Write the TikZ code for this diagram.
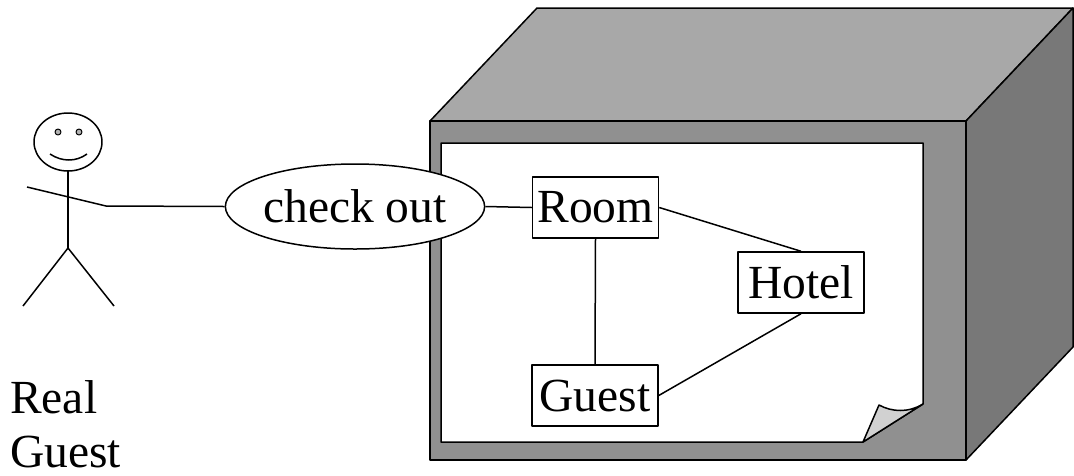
\documentclass[tikz,border=0pt]{standalone}
\usepackage{fontspec}
\setmainfont{Liberation Serif}
\usetikzlibrary{shapes.geometric}

\definecolor{topface}{gray}{0.66}
\definecolor{frontface}{gray}{0.565}
\definecolor{sideface}{gray}{0.47}
\definecolor{curlgray}{gray}{0.82}

\tikzset{
	cls/.style={draw, fill=white, line width=1.5pt, inner sep=0pt,
		minimum width=126pt, minimum height=61pt,
		font=\fontsize{47.5}{47.5}\selectfont},
	usecase/.style={ellipse, draw, fill=white, line width=1.5pt, inner sep=0pt,
		minimum width=236pt, minimum height=85pt,
		font=\fontsize{47.5}{47.5}\selectfont},
	assoc/.style={line width=1.5pt}
}

\begin{document}
\begin{tikzpicture}[x=1pt, y=-1pt, line join=round]
		\useasboundingbox (0, 0) rectangle (1074, 475);

		%%% The box
		\filldraw[fill=topface, line width=1.5pt] (430, 121) -- (537, 8) -- (1073, 8) -- (966, 121) -- cycle;
		\filldraw[fill=sideface, line width=1.5pt] (966, 121) -- (1073, 8) -- (1073, 347) -- (966, 460) -- cycle;
		\filldraw[fill=frontface, line width=1.5pt] (430, 121) rectangle (966, 460);

		%%% The sheet with its curled corner
		\filldraw[fill=white, line width=1.5pt] (441, 143) -- (923, 143) -- (923, 404) -- (863, 442) -- (441, 442) -- cycle;
		\filldraw[fill=curlgray, line width=1.5pt] (863, 442) -- (923, 404) .. controls (908, 413) and (892, 412) .. (879, 405) -- cycle;

		%%% The actor
		\draw[line width=1.5pt] (68, 142) ellipse [x radius=34, y radius=29];
		\filldraw[fill=gray!60, line width=1pt] (58, 132) circle [radius=3];
		\filldraw[fill=gray!60, line width=1pt] (79, 132) circle [radius=3];
		\draw[line width=1.5pt] (50, 154) .. controls (62, 162) and (76, 162) .. (87, 154);
		\draw[line width=1.5pt] (68, 171) -- (68, 248);
		\draw[line width=1.5pt] (23, 306) -- (68, 248) -- (114, 306);
		\coordinate (hand) at (106, 206);
		\node[anchor=north west, inner sep=0pt, align=left, font=\fontsize{47.5}{54}\selectfont] (actor) at (10, 380) {Real\\Guest};

		%%% Use case and classes
		\node[usecase] (checkout) at (355, 206.5) {check out};
		\node[cls] (room) at (595.5, 207.5) {Room};
		\node[cls] (hotel) at (801, 282.5) {Hotel};
		\node[cls] (guest) at (595, 395.5) {Guest};

		\draw[assoc] (27, 187) -- (hand) -- (checkout.west);
		\draw[assoc] (checkout.east) -- (room.west);
		\draw[assoc] (room.east) -- (hotel.north);
		\draw[assoc] (hotel.south) -- (guest.east);
		\draw[assoc] (room.south) -- (guest.north);
\end{tikzpicture}
\end{document}
